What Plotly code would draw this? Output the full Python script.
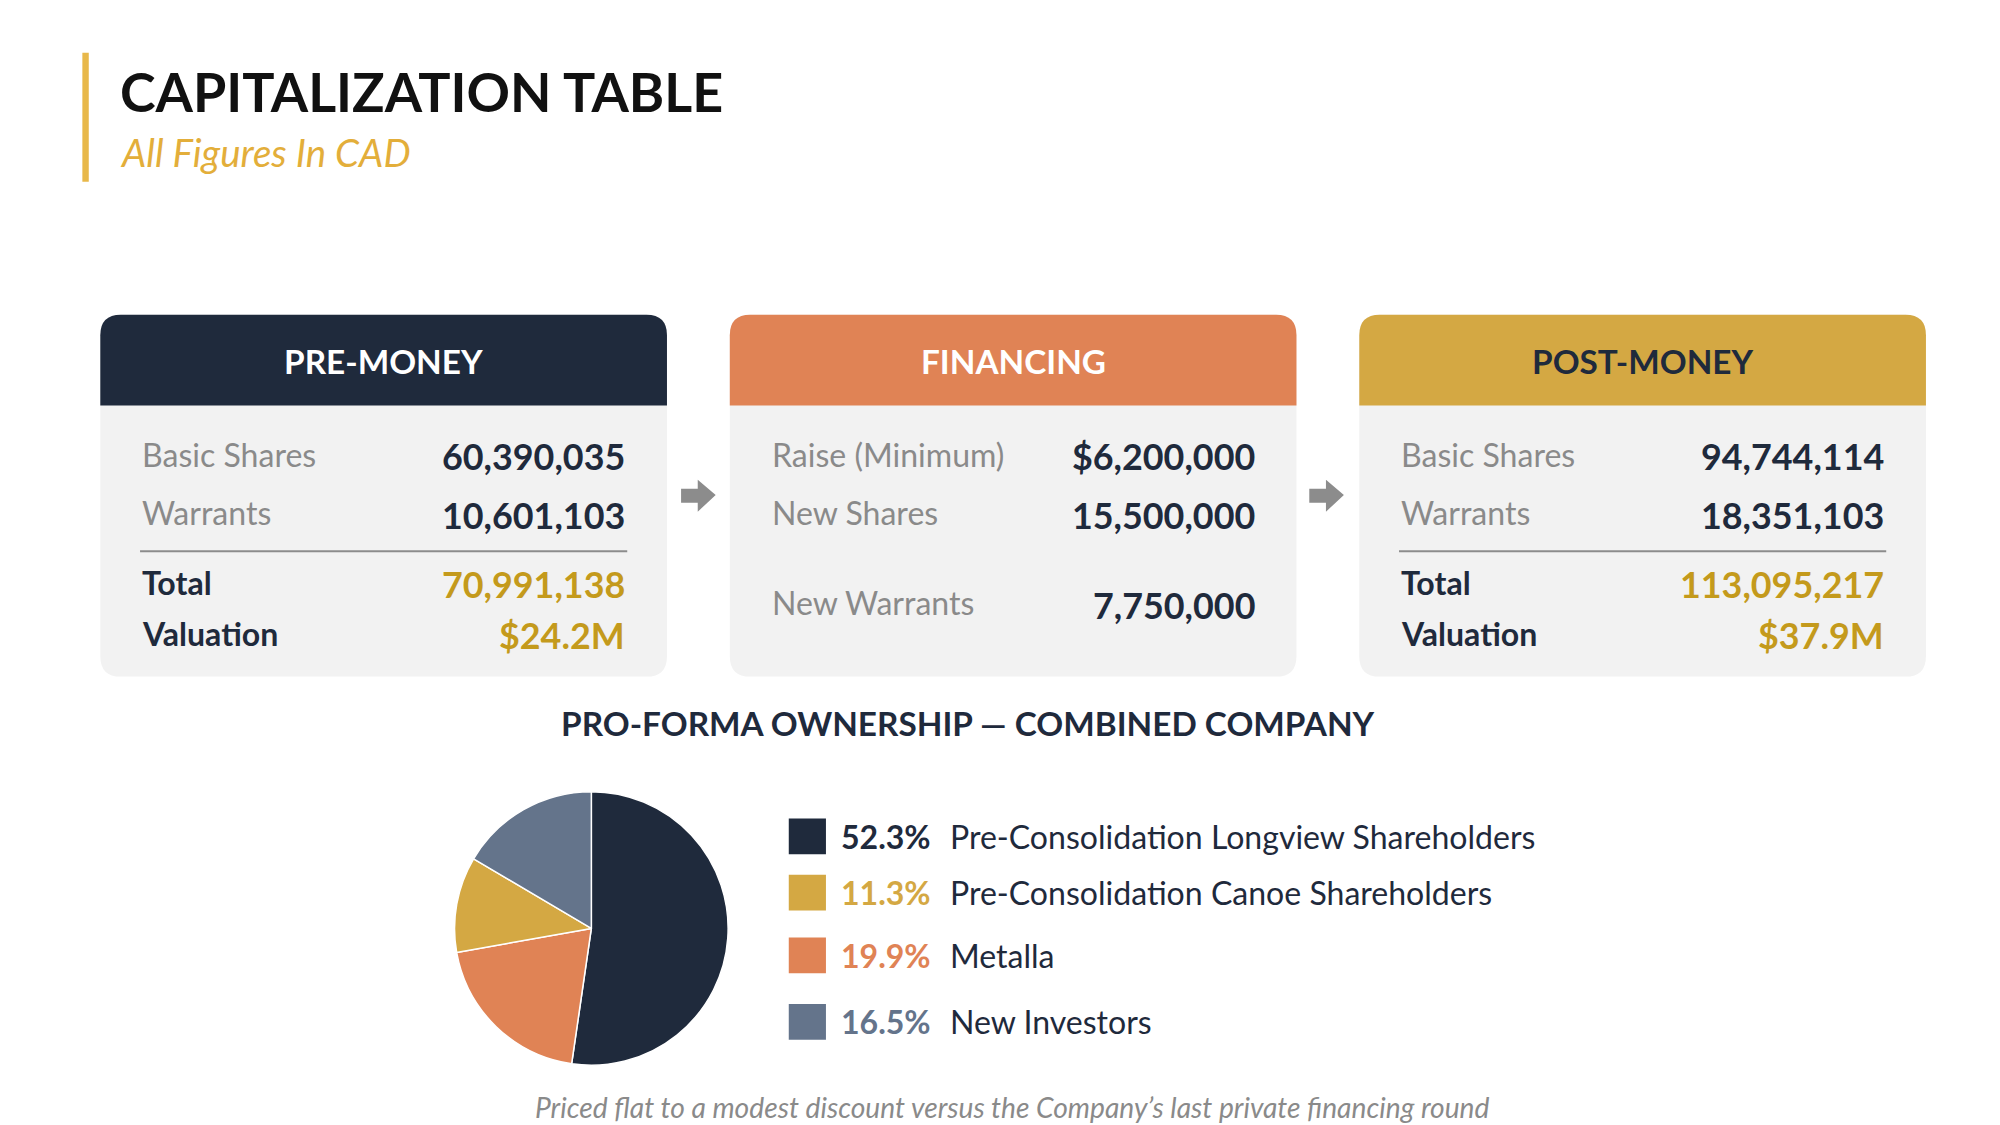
import plotly.graph_objects as go

# data
segments = ["Pre-Consolidation Longview Shareholders", "Metalla",
            "Pre-Consolidation Canoe Shareholders", "New Investors"]
shares_pct = [52.3, 19.9, 11.3, 16.5]
seg_colors = ["#1F2A3C", "#E08355", "#D4A843", "#64748B"]

legend_order = [0, 2, 1, 3]

pre_labels = ["Basic Shares", "Warrants"]
pre_values = ["60,390,035", "10,601,103"]
pre_total = "70,991,138"
pre_valuation = "$24.2M"

fin_labels = ["Raise (Minimum)", "New Shares", "New Warrants"]
fin_values = ["$6,200,000", "15,500,000", "7,750,000"]

post_labels = ["Basic Shares", "Warrants"]
post_values = ["94,744,114", "18,351,103"]
post_total = "113,095,217"
post_valuation = "$37.9M"

W, H = 1560.0, 880.0
S = 2000 / W
FONT = "Lato"
DARK = "#1F2A3C"
GOLD = "#C49A1C"
GRAY = "#8A8A8A"


def X(p):
    return p / W


def Y(p):
    return 1 - p / H


fig = go.Figure()
shapes = []
annotations = []


def text(x, y, s, size, color=DARK, bold=False, italic=False, anchor="left"):
    if bold:
        s = "<b>" + s + "</b>"
    if italic:
        s = "<i>" + s + "</i>"
    annotations.append(dict(x=X(x), y=Y(y), xref="paper", yref="paper", text=s,
                            showarrow=False, xanchor=anchor, yanchor="middle",
                            font=dict(family=FONT, size=size * S, color=color)))


def rrect(x0, y0, x1, y1, r, color, top_only=False):
    xa, xb = X(x0), X(x1)
    ya, yb = Y(y0), Y(y1)
    rx, ry = r / W, r / H
    if top_only:
        p = (f"M {xa},{yb} L {xa},{ya-ry} Q {xa},{ya} {xa+rx},{ya} "
             f"L {xb-rx},{ya} Q {xb},{ya} {xb},{ya-ry} L {xb},{yb} Z")
    else:
        p = (f"M {xa},{yb+ry} L {xa},{ya-ry} Q {xa},{ya} {xa+rx},{ya} "
             f"L {xb-rx},{ya} Q {xb},{ya} {xb},{ya-ry} L {xb},{yb+ry} "
             f"Q {xb},{yb} {xb-rx},{yb} L {xa+rx},{yb} Q {xa},{yb} {xa},{yb+ry} Z")
    shapes.append(dict(type="path", path=p, xref="paper", yref="paper",
                       fillcolor=color, line=dict(width=0), layer="below"))


# title block
shapes.append(dict(type="rect", xref="paper", yref="paper", x0=X(58), x1=X(63),
                   y0=Y(136), y1=Y(35), fillcolor="#E8B84A", line=dict(width=0)))
text(86, 65, "CAPITALIZATION TABLE", 42, "#111111", bold=True)
text(86, 113, "All Figures In CAD", 30, "#E3AE3A", italic=True)

boxes = [(72, "PRE-MONEY", DARK, "white"),
         (563, "FINANCING", "#E08355", "white"),
         (1054, "POST-MONEY", "#D4A843", DARK)]
for bx, title, col, tcol in boxes:
    rrect(bx, 240, bx + 442, 523, 16, "#F2F2F2")
    rrect(bx, 240, bx + 442, 311, 16, col, top_only=True)
    text(bx + 221, 276, title, 26, tcol, bold=True, anchor="center")


def share_box(bx, labels, values, total, valuation):
    for i, (lab, val) in enumerate(zip(labels, values)):
        yy = 349 + 46 * i
        text(bx + 31, yy, lab, 25, GRAY)
        text(bx + 411, yy + 2, val, 28, DARK, bold=True, anchor="right")
    shapes.append(dict(type="line", xref="paper", yref="paper", x0=X(bx + 31),
                       x1=X(bx + 411), y0=Y(425), y1=Y(425),
                       line=dict(color="#8C8C8C", width=2)))
    text(bx + 31, 449, "Total", 25, DARK, bold=True)
    text(bx + 31, 489, "Valuation", 25, DARK, bold=True)
    text(bx + 411, 451, total, 28, GOLD, bold=True, anchor="right")
    text(bx + 411, 491, valuation, 28, GOLD, bold=True, anchor="right")


share_box(72, pre_labels, pre_values, pre_total, pre_valuation)
share_box(1054, post_labels, post_values, post_total, post_valuation)

for lab, val, yy in zip(fin_labels, fin_values, [349, 395, 465]):
    text(594, yy, lab, 25, GRAY)
    text(974, yy + 2, val, 28, DARK, bold=True, anchor="right")

# arrows between boxes
for ax in [525, 1015]:
    p = (f"M {X(ax)},{Y(376)} L {X(ax+13)},{Y(376)} L {X(ax+13)},{Y(369)} "
         f"L {X(ax+27)},{Y(381)} L {X(ax+13)},{Y(394)} L {X(ax+13)},{Y(387)} "
         f"L {X(ax)},{Y(387)} Z")
    shapes.append(dict(type="path", path=p, xref="paper", yref="paper",
                       fillcolor="#8C8C8C", line=dict(width=0)))

text(749, 559, "PRO-FORMA OWNERSHIP — COMBINED COMPANY", 26, DARK, bold=True, anchor="center")

fig.add_trace(go.Pie(
    labels=segments, values=shares_pct, sort=False, direction="clockwise",
    rotation=0, marker=dict(colors=seg_colors, line=dict(color="white", width=1.5)),
    textinfo="none", hoverinfo="label+percent", showlegend=False,
    domain=dict(x=[X(348), X(562)], y=[Y(827), Y(613)])))

pct_colors = [DARK, "#D4A843", "#E08355", "#64748B"]
for k, yy in zip(legend_order, [648, 692, 741, 793]):
    shapes.append(dict(type="rect", xref="paper", yref="paper", x0=X(609), x1=X(638),
                       y0=Y(yy + 14), y1=Y(yy - 14), fillcolor=seg_colors[k],
                       line=dict(width=0)))
    text(648, yy, f"{shares_pct[k]:.1f}%", 25, pct_colors[legend_order.index(k)], bold=True)
    text(733, yy, segments[k], 25, DARK)

text(783, 860, "Priced flat to a modest discount versus the Company’s last private financing round",
     22, "#8A8A8A", italic=True, anchor="center")

fig.update_layout(width=2000, height=1125, margin=dict(l=0, r=0, t=0, b=0),
                  paper_bgcolor="white", plot_bgcolor="white",
                  shapes=shapes, annotations=annotations,
                  xaxis=dict(visible=False), yaxis=dict(visible=False))
fig.write_html("out.html")
